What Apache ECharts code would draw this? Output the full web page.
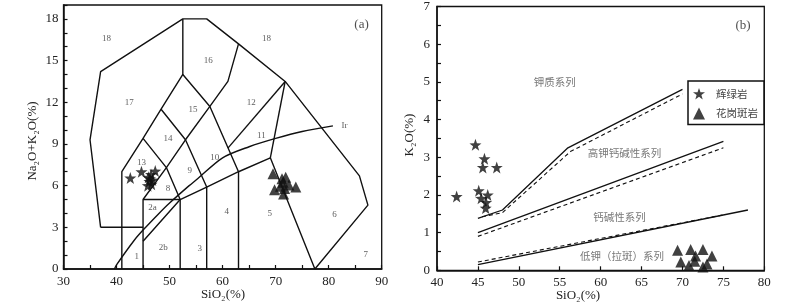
<!DOCTYPE html>
<html><head><meta charset="utf-8">
<script src="https://cdn.jsdelivr.net/npm/echarts@6/dist/echarts.min.js"></script>
<style>html,body{margin:0;padding:0;background:#fff}#c{width:800px;height:304px}</style>
</head><body><div id="c"></div>
<script>
// ---------- Panel (a): TAS diagram ----------
const tasBoundaries = [
  [[37,3],[35,9.3],[37,14.2],[52.5,18],[57,18],[63,16.2],[71.8,13.5],[85.8,6.7],[87.4,4.6],[77.4,0]],
  [[37,3],[45,3]],
  [[41,0],[41,7],[45,9.4],[48.4,11.5],[52.5,14],[52.5,18]],
  [[45,0],[45,5],[52,5],[52,0]],
  [[45,9.4],[49.4,7.3],[52,5]],
  [[45,5],[49.4,7.3],[53,9.3],[57.6,11.7],[61,13.5],[63,16.2]],
  [[48.4,11.5],[53,9.3],[57,5.9],[57,0]],
  [[52.5,14],[57.6,11.7],[63,7],[63,0]],
  [[45,2],[52,5],[57,5.9],[63,7],[69,8],[77.4,0]],
  [[61,8.7],[71.8,13.5]],
  [[69,8],[71.8,13.5]]
];
const irvineLine = [[39.6,0],[40,0.3],[43.2,2],[45,2.8],[48,4],[50,4.75],[53.7,6],[55,6.4],[60,8],[65,8.8],[70,9.4],[75,9.9],[80.8,10.3]];
const tasFieldLabels = [
  ['18',38.1,16.6],['18',68.3,16.6],['16',57.3,15.0],['17',42.4,12.0],['15',54.4,11.5],
  ['14',49.7,9.35],['13',44.7,7.65],['12',65.4,12.0],['11',67.3,9.6],['10',58.5,8.0],
  ['9',53.8,7.05],['8',49.7,5.75],['2a',46.8,4.4],['2b',48.8,1.55],['1',43.8,0.9],
  ['3',55.7,1.45],['4',60.8,4.1],['5',68.9,4.0],['6',81.1,3.9],['7',87.0,1.0],['Ir',83.0,10.3]
];
const tasDiabase = [[42.6,6.55],[44.7,7.0],[47.3,7.05],[46.0,6.6],[46.5,6.8],[46.2,6.3],[46.6,6.1],[45.9,6.0],[46.3,6.5],[46.8,6.4]];
const tasGranite = [[69.5,6.85],[71.2,6.5],[71.9,6.6],[69.8,5.7],[71.4,6.25],[71.7,5.8],[71.5,5.4],[73.8,5.9],[72.5,6.05],[70.9,5.95]];

// ---------- Panel (b): K2O-SiO2 diagram ----------
const kSolidLines = [
  [[45,1.38],[48,1.6],[56,3.25],[70,4.8]],
  [[45,1.0],[75,3.42]],
  [[45,0.15],[78,1.6]]
];
const kDashedLines = [
  [[45.5,1.42],[48,1.53],[56.3,3.15],[70,4.68]],
  [[45,0.9],[75,3.25]],
  [[45,0.22],[75,1.47]]
];
const kSeriesLabels = [['钾质系列',54.4,5.0],['高钾钙碱性系列',62.9,3.1],['钙碱性系列',62.3,1.42],['低钾（拉斑）系列',62.6,0.38]];
const kDiabase = [[44.7,3.33],[45.8,2.96],[45.6,2.73],[47.3,2.73],[42.4,1.96],[45.1,2.11],[45.4,1.91],[46.2,2.0],[46.0,1.80],[45.95,1.65]];
const kGranite = [[69.4,0.53],[69.8,0.22],[71.0,0.55],[70.8,0.13],[71.6,0.38],[71.5,0.24],[72.5,0.55],[72.5,0.09],[73.0,0.17],[73.6,0.38]];

const seriesNames = ['辉绿岩','花岗斑岩'];
const panelTags = [['(a)',86.2,17.6],['(b)',77.4,6.5]];

const SERIF = '"Liberation Serif","Times New Roman",serif';
const CJK = '"Noto Sans CJK SC","Noto Sans CJK JP",sans-serif';
const STAR = 'path://M0,-10L2.35,-3.24L9.51,-3.09L3.8,1.24L5.88,8.09L0,4L-5.88,8.09L-3.8,1.24L-9.51,-3.09L-2.35,-3.24Z';
const INK = '#111';

function axisCommon(extra) {
  return Object.assign({
    type: 'value',
    axisLine: { onZero: false, lineStyle: { color: INK, width: 1.5 } },
    axisTick: { inside: true, length: 4, lineStyle: { color: INK, width: 1.2 } },
    splitLine: { show: false },
    axisLabel: { color: '#222', fontFamily: SERIF, fontSize: 13 }
  }, extra);
}

const series = [];
tasBoundaries.forEach(l => series.push({type:'line', xAxisIndex:0, yAxisIndex:0, data:l, showSymbol:false, symbol:'none', silent:true, lineStyle:{color:INK,width:1.4}}));
series.push({type:'line', xAxisIndex:0, yAxisIndex:0, data:irvineLine, smooth:0.3, showSymbol:false, symbol:'none', silent:true, lineStyle:{color:INK,width:1.4}});
series.push({type:'scatter', xAxisIndex:0, yAxisIndex:0, silent:true, symbolSize:1, itemStyle:{color:'rgba(0,0,0,0)'},
  data: tasFieldLabels.map(d => ({value:[d[1],d[2]], name:d[0]})),
  label:{show:true, position:'inside', formatter:p=>p.name, color:'#333', fontFamily:SERIF, fontSize:9}});
kSolidLines.forEach(l => series.push({type:'line', xAxisIndex:1, yAxisIndex:1, data:l, showSymbol:false, symbol:'none', silent:true, lineStyle:{color:INK,width:1.3}}));
kDashedLines.forEach(l => series.push({type:'line', xAxisIndex:1, yAxisIndex:1, data:l, showSymbol:false, symbol:'none', silent:true, lineStyle:{color:INK,width:1.1,type:[4,3]}}));
series.push({type:'scatter', xAxisIndex:1, yAxisIndex:1, silent:true, symbolSize:1, itemStyle:{color:'rgba(0,0,0,0)'},
  data: kSeriesLabels.map(d => ({value:[d[1],d[2]], name:d[0]})),
  label:{show:true, position:'inside', formatter:p=>p.name, color:'#555', fontFamily:CJK, fontSize:10.5}});
series.push({type:'scatter', xAxisIndex:0, yAxisIndex:0, silent:true, symbolSize:1, itemStyle:{color:'rgba(0,0,0,0)'},
  data:[{value:[panelTags[0][1],panelTags[0][2]], name:panelTags[0][0]}],
  label:{show:true, position:'inside', formatter:p=>p.name, color:'#222', fontFamily:SERIF, fontSize:13}});
series.push({type:'scatter', xAxisIndex:1, yAxisIndex:1, silent:true, symbolSize:1, itemStyle:{color:'rgba(0,0,0,0)'},
  data:[{value:[panelTags[1][1],panelTags[1][2]], name:panelTags[1][0]}],
  label:{show:true, position:'inside', formatter:p=>p.name, color:'#222', fontFamily:SERIF, fontSize:13}});
// samples
series.push({name:seriesNames[0], type:'scatter', xAxisIndex:0, yAxisIndex:0, data:tasDiabase, symbol:STAR, symbolSize:12, itemStyle:{color:INK}});
series.push({name:seriesNames[1], type:'scatter', xAxisIndex:0, yAxisIndex:0, data:tasGranite, symbol:'triangle', symbolSize:11, itemStyle:{color:INK}});
series.push({name:seriesNames[0], type:'scatter', xAxisIndex:1, yAxisIndex:1, data:kDiabase, symbol:STAR, symbolSize:12, itemStyle:{color:INK}});
series.push({name:seriesNames[1], type:'scatter', xAxisIndex:1, yAxisIndex:1, data:kGranite, symbol:'triangle', symbolSize:11, itemStyle:{color:INK}});

const chart = echarts.init(document.getElementById('c'), null, {renderer:'canvas'});
chart.setOption({
  animation: false,
  backgroundColor: '#fff',
  grid: [
    {left:63.5, right:418.3, top:5, bottom:35, show:true, borderColor:INK, borderWidth:1.3},
    {left:437, right:35.7, top:5, bottom:33.7, show:true, borderColor:INK, borderWidth:1.3}
  ],
  xAxis: [
    axisCommon({gridIndex:0, min:30, max:90, interval:5,
      axisLabel:{color:'#222', fontFamily:SERIF, fontSize:13, margin:6, formatter:v => (v % 10 === 0 ? String(v) : '')}}),
    axisCommon({gridIndex:1, min:40, max:80, interval:5,
      axisLabel:{color:'#222', fontFamily:SERIF, fontSize:13, margin:6}})
  ],
  yAxis: [
    axisCommon({gridIndex:0, min:0, max:19, interval:1,
      axisLabel:{color:'#222', fontFamily:SERIF, fontSize:13, margin:5, formatter:v => (v % 3 === 0 ? String(v) : '')}}),
    axisCommon({gridIndex:1, min:0, max:7, interval:0.5,
      axisLabel:{color:'#222', fontFamily:SERIF, fontSize:13, margin:7, formatter:v => (Number.isInteger(v) ? String(v) : '')}})
  ],
  legend: {
    data: [{name:seriesNames[0], icon:STAR}, {name:seriesNames[1], icon:'triangle'}],
    orient:'vertical', left:688, top:81,
    padding:[7,6,5,5], itemGap:8, itemWidth:12, itemHeight:12,
    borderColor:INK, borderWidth:1.5, backgroundColor:'#fff',
    textStyle:{fontFamily:CJK, fontSize:10.5, color:'#444', padding:[0,0,0,6]},
    selectedMode:false
  },
  graphic: [
    {type:'text', x:33, y:141, rotation:Math.PI/2, style:{text:'Na₂O+K₂O(%)', fontFamily:SERIF, fontSize:13, fill:'#222', align:'center', verticalAlign:'middle'}},
    {type:'text', x:223, y:295, style:{text:'SiO₂(%)', fontFamily:SERIF, fontSize:13, fill:'#222', align:'center', verticalAlign:'middle'}},
    {type:'text', x:410, y:135, rotation:Math.PI/2, style:{text:'K₂O(%)', fontFamily:SERIF, fontSize:13, fill:'#222', align:'center', verticalAlign:'middle'}},
    {type:'text', x:578, y:296, style:{text:'SiO₂(%)', fontFamily:SERIF, fontSize:13, fill:'#222', align:'center', verticalAlign:'middle'}}
  ],
  series: series
});
</script>
</body></html>
